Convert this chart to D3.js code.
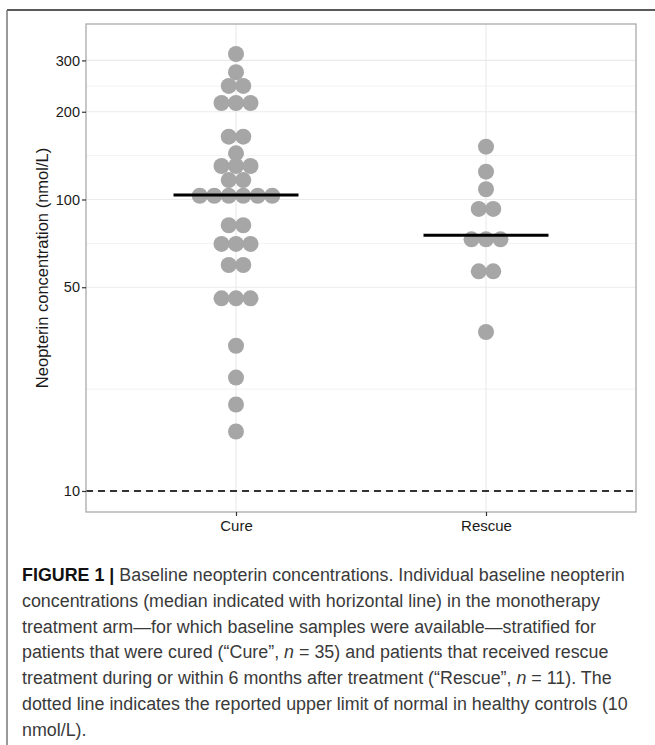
<!DOCTYPE html>
<html>
<head>
<meta charset="utf-8">
<script src="https://cdn.jsdelivr.net/npm/d3@7"></script>
<style>
  html, body { margin: 0; padding: 0; background: #fff; }
  svg { display: block; }
</style>
</head>
<body>
<svg id="fig" width="655" height="745"></svg>
<script>
// Treatment groups on the x axis
const groups = ["Cure", "Rescue"];

// Baseline neopterin (nmol/L), one entry per patient
const cureValues = [
  315.6, 273.2, 245.2, 245.2, 214.3, 214.3, 214.3,
  164.3, 164.3, 144.0, 130.3, 130.3, 130.3, 116.6, 116.6,
  103.0, 103.0, 103.0, 103.0, 103.0, 103.0,
  81.6, 81.6, 70.4, 70.4, 70.4, 59.6, 59.6,
  45.8, 45.8, 45.8, 31.5, 24.5, 19.8, 16.0
];
const rescueValues = [
  151.8, 124.6, 108.4, 92.8, 92.8, 73.0, 73.0, 73.0, 56.7, 56.7, 35.1
];

// Group medians (horizontal bars)
const medians = [103.6, 75.4];

// Upper limit of normal in healthy controls
const normalLimit = 10;

// Axis breaks
const yTicks = [10, 50, 100, 200, 300];
const yMinorTicks = [22.36, 70.71, 141.42, 244.95];

// Caption, one array of [text, style] runs per line
const captionLines = [
  [["FIGURE 1 | ", "b"], ["Baseline neopterin concentrations. Individual baseline neopterin", ""]],
  [["concentrations (median indicated with horizontal line) in the monotherapy", ""]],
  [["treatment arm\u2014for which baseline samples were available\u2014stratified for", ""]],
  [["patients that were cured (\u201CCure\u201D, ", ""], ["n", "i"], [" = 35) and patients that received rescue", ""]],
  [["treatment during or within 6 months after treatment (\u201CRescue\u201D, ", ""], ["n", "i"], [" = 11). The", ""]],
  [["dotted line indicates the reported upper limit of normal in healthy controls (10", ""]],
  [["nmol/L).", ""]]
];

const svg = d3.select("#fig");
const font = "'Liberation Sans', Arial, Helvetica, sans-serif";

// Outer figure frame (top and left edges)
svg.append("line").attr("x1", 7).attr("x2", 655).attr("y1", 10).attr("y2", 10)
  .attr("stroke", "#222").attr("stroke-width", 1.5);
svg.append("line").attr("x1", 7).attr("x2", 7).attr("y1", 10).attr("y2", 745)
  .attr("stroke", "#777").attr("stroke-width", 1.5);

// Panel
const panel = { left: 86, right: 636, top: 24, bottom: 512 };

// Discrete x: 0.6 of a step of empty space on each side of the outer groups
const x = d3.scalePoint()
  .domain(groups)
  .range([panel.left, panel.right])
  .padding(0.6);

const y = d3.scaleLog()
  .domain([8.47, 400])
  .range([panel.bottom, panel.top]);

const g = svg.append("g");

// Grid
g.selectAll("line.minor").data(yMinorTicks).join("line")
  .attr("class", "minor")
  .attr("x1", panel.left).attr("x2", panel.right)
  .attr("y1", d => y(d)).attr("y2", d => y(d))
  .attr("stroke", "#f2f2f2").attr("stroke-width", 1);
g.selectAll("line.major").data(yTicks).join("line")
  .attr("class", "major")
  .attr("x1", panel.left).attr("x2", panel.right)
  .attr("y1", d => y(d)).attr("y2", d => y(d))
  .attr("stroke", "#ebebeb").attr("stroke-width", 1.2);
g.selectAll("line.vgrid").data(groups).join("line")
  .attr("class", "vgrid")
  .attr("x1", d => x(d)).attr("x2", d => x(d))
  .attr("y1", panel.top).attr("y2", panel.bottom)
  .attr("stroke", "#ebebeb").attr("stroke-width", 1.2);

// Reference line at the upper limit of normal
g.append("line")
  .attr("x1", panel.left).attr("x2", panel.right)
  .attr("y1", y(normalLimit)).attr("y2", y(normalLimit))
  .attr("stroke", "#333").attr("stroke-width", 1.8)
  .attr("stroke-dasharray", "7,5");

// Dot plot: equal values stack side by side, centred on the group
const dotSpacing = 14.5;
const dotRadius = 8;
function stackDots(group, values) {
  const rows = d3.groups(values, v => v);
  const out = [];
  rows.forEach(([v, arr]) => {
    arr.forEach((_, i) => {
      out.push({ group, value: v, offset: (i - (arr.length - 1) / 2) * dotSpacing });
    });
  });
  return out;
}
const dots = stackDots("Cure", cureValues).concat(stackDots("Rescue", rescueValues));

g.selectAll("circle.dot").data(dots).join("circle")
  .attr("class", "dot")
  .attr("cx", d => x(d.group) + d.offset)
  .attr("cy", d => y(d.value))
  .attr("r", dotRadius)
  .attr("fill", "#a6a6a6");

// Median bars
const halfBar = x.step() * 0.25;
g.selectAll("line.median").data(groups).join("line")
  .attr("class", "median")
  .attr("x1", d => x(d) - halfBar).attr("x2", d => x(d) + halfBar)
  .attr("y1", (d, i) => y(medians[i])).attr("y2", (d, i) => y(medians[i]))
  .attr("stroke", "#000").attr("stroke-width", 3);

// Panel border
g.append("rect")
  .attr("x", panel.left).attr("y", panel.top)
  .attr("width", panel.right - panel.left).attr("height", panel.bottom - panel.top)
  .attr("fill", "none").attr("stroke", "#aaa").attr("stroke-width", 1.3);

// Y axis
const yAxis = d3.axisLeft(y).tickValues(yTicks).tickFormat(d3.format("d"))
  .tickSize(4).tickPadding(2);
const ya = svg.append("g").attr("transform", `translate(${panel.left},0)`).call(yAxis);
ya.select(".domain").remove();
ya.selectAll(".tick line").attr("stroke", "#333").attr("stroke-width", 1.2);
ya.selectAll(".tick text").attr("fill", "#1a1a1a")
  .style("font-family", font).style("font-size", "14.5px");

// X axis
const xAxis = d3.axisBottom(x).tickSize(4).tickPadding(4);
const xa = svg.append("g").attr("transform", `translate(0,${panel.bottom})`).call(xAxis);
xa.select(".domain").remove();
xa.selectAll(".tick line").attr("stroke", "#333").attr("stroke-width", 1.2);
xa.selectAll(".tick text").attr("fill", "#1a1a1a")
  .style("font-family", font).style("font-size", "15px");

// Y axis title
svg.append("text")
  .attr("transform", `translate(48,${(panel.top + panel.bottom) / 2}) rotate(-90)`)
  .attr("text-anchor", "middle")
  .style("font-family", font).style("font-size", "16.5px")
  .attr("fill", "#1a1a1a")
  .text("Neopterin concentration (nmol/L)");

// Caption
const capLeft = 22, capTop = 581, capStep = 25.8, capWidth = 603;
const capTexts = captionLines.map(runs => {
  const t = svg.append("text")
    .attr("y", 0)
    .style("font-family", font).style("font-size", "19px")
    .attr("fill", "#3a3a3a");
  runs.forEach(([txt, st]) => {
    const s = t.append("tspan").text(txt);
    if (st === "b") s.attr("font-weight", "bold").attr("fill", "#111");
    if (st === "i") s.attr("font-style", "italic");
  });
  return t;
});
const firstWidth = capTexts[0].node().getComputedTextLength();
const sx = capWidth / firstWidth;
capTexts.forEach((t, i) => {
  t.attr("transform", `translate(${capLeft},${capTop + i * capStep}) scale(${sx},1)`);
});
</script>
</body>
</html>
